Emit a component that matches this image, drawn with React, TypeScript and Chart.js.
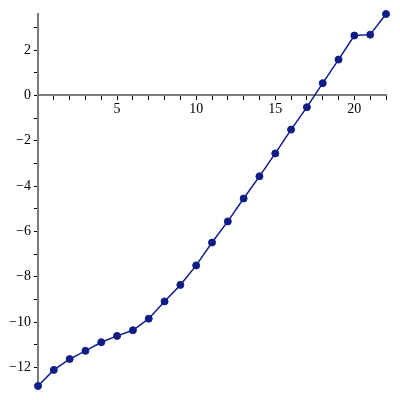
import React, { useEffect, useRef } from "react";
import { Chart, registerables } from "chart.js";

Chart.register(...registerables);

const xValues = [0, 1, 2, 3, 4, 5, 6, 7, 8, 9, 10, 11, 12, 13, 14, 15, 16, 17, 18, 19, 20, 21, 22];
const yValues = [
  -12.82, -12.11, -11.63, -11.27, -10.89, -10.61, -10.36, -9.85, -9.09, -8.36,
  -7.5, -6.49, -5.56, -4.55, -3.57, -2.56, -1.51, -0.52, 0.54, 1.58, 2.64, 2.68, 3.59,
];
const xLabelTicks = [5, 10, 15, 20];
const yLabelTicks = [2, 0, -2, -4, -6, -8, -10, -12];

const fmt = (v: number) => (v < 0 ? "\u2212" + Math.abs(v) : String(v));
const FONT = "'Times New Roman', 'Liberation Serif', 'DejaVu Serif', serif";

export default function App() {
  const ref = useRef<HTMLCanvasElement>(null);
  useEffect(() => {
    if (!ref.current) return;
    const lineColor = "#0f1c85";
    const chart = new Chart(ref.current, {
      type: "line",
      data: {
        datasets: [
          {
            data: xValues.map((x, i) => ({ x, y: yValues[i] })),
            borderColor: lineColor,
            backgroundColor: lineColor,
            borderWidth: 1.5,
            pointRadius: 3.5,
            pointBackgroundColor: lineColor,
            pointBorderColor: lineColor,
            pointBorderWidth: 1,
            tension: 0,
            clip: false,
          },
        ],
      },
      options: {
        animation: false,
        responsive: false,
        maintainAspectRatio: false,
        layout: { padding: { top: 14, right: 14, bottom: 14, left: 0 } },
        plugins: { legend: { display: false }, tooltip: { enabled: false } },
        scales: {
          x: {
            type: "linear",
            position: { y: 0 } as any,
            min: 0,
            max: 22,
            afterFit: (s: any) => {
              s.height = 0;
            },
            grid: {
              display: true,
              drawOnChartArea: false,
              drawTicks: true,
              tickLength: 4,
              tickColor: "#000",
              tickWidth: 1,
            },
            border: { display: true, color: "#7a7a7a", width: 2 },
            ticks: {
              stepSize: 1,
              autoSkip: false,
              maxRotation: 0,
              includeBounds: false,
              padding: 2,
              color: "#000",
              font: { family: FONT, size: 14 },
              callback: (v: any) => (xLabelTicks.includes(Number(v)) ? fmt(Number(v)) : ""),
            },
          },
          y: {
            type: "linear",
            position: "left",
            min: -12.82,
            max: 3.59,
            afterFit: (s: any) => {
              s.width = 38;
            },
            grid: {
              display: true,
              drawOnChartArea: false,
              drawTicks: true,
              tickLength: 4,
              tickColor: "#000",
              tickWidth: 1,
            },
            border: { display: true, color: "#7a7a7a", width: 2 },
            ticks: {
              stepSize: 1,
              autoSkip: false,
              includeBounds: false,
              padding: 3,
              color: "#000",
              font: { family: FONT, size: 14 },
              callback: (v: any) => (yLabelTicks.includes(Number(v)) ? fmt(Number(v)) : ""),
            },
          },
        },
      },
    });
    return () => chart.destroy();
  }, []);
  return (
    <div style={{ position: "fixed", left: 0, top: 0, width: 400, height: 400, background: "#fff", fontFamily: FONT }}>
      <canvas ref={ref} width={400} height={400} style={{ width: 400, height: 400 }} />
    </div>
  );
}
